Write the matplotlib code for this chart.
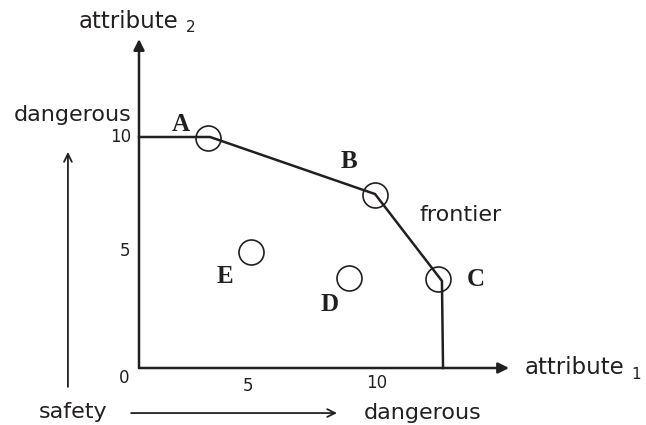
import matplotlib
matplotlib.use("Agg")
import matplotlib.pyplot as plt

# ---- data (attribute units) ----
frontier_x = [0.0, 3.23, 10.73, 13.77, 13.82]
frontier_y = [10.0, 10.0, 7.53, 3.77, 0.0]

point_names = ["A", "B", "C", "D", "E"]
point_x = [3.14, 10.73, 13.59, 9.55, 5.09]
point_y = [9.96, 7.49, 3.85, 3.90, 5.02]

label_x = [1.91, 9.55, 15.32, 8.68, 3.91]
label_y = [10.56, 8.96, 3.85, 2.77, 3.98]

xtick_vals = [0, 5, 10]
xtick_pos = [-0.68, 4.95, 10.82]
xtick_ypos = [-0.43, -0.78, -0.65]
ytick_vals = [5, 10]
ytick_xpos = [-0.64, -0.82]
ytick_pos = [5.06, 10.0]

x_axis_end = 16.82
y_axis_end = 14.24

fig = plt.figure(figsize=(6.46, 4.25), dpi=100)
ax = fig.add_axes([0, 0, 1, 1])
ax.set_xlim(-139 / 22.0, (646 - 139) / 22.0)
ax.set_ylim(-(425 - 368) / 23.1, 368 / 23.1)
ax.axis("off")

sans = "DejaVu Sans"
col = "#231f20"

# axes with arrows
ax.annotate("", xy=(x_axis_end, 0), xytext=(0, 0),
            arrowprops=dict(arrowstyle="-|>", color=col, lw=1.8,
                            mutation_scale=16, shrinkA=0, shrinkB=0))
ax.annotate("", xy=(0, y_axis_end), xytext=(0, 0),
            arrowprops=dict(arrowstyle="-|>", color=col, lw=1.8,
                            mutation_scale=16, shrinkA=0, shrinkB=0))

# frontier
ax.plot(frontier_x, frontier_y, color=col, lw=1.8, solid_joinstyle="miter")

# points
ax.plot(point_x, point_y, linestyle="none", marker="o", markersize=18,
        markerfacecolor="none", markeredgecolor=col, markeredgewidth=1.2)

for n, lx, ly in zip(point_names, label_x, label_y):
    ax.text(lx, ly, n, fontsize=18, fontweight="bold", family="Liberation Serif",
            ha="center", va="center", color=col)

# tick labels
for v, p, yp in zip(xtick_vals, xtick_pos, xtick_ypos):
    ax.text(p, yp, str(v), fontsize=12, family=sans,
            ha="center", va="center", color=col)
for v, xp, p in zip(ytick_vals, ytick_xpos, ytick_pos):
    ax.text(xp, p, str(v), fontsize=12, family=sans,
            ha="center", va="center", color=col)

# axis titles
ax.text(-2.73, 14.98, "attribute", fontsize=16.5, family=sans, ha="left",
        va="center", color=col)
ax.text(2.35, 14.72, "2", fontsize=11, family=sans, ha="center",
        va="center", color=col)
ax.text(17.55, 0.04, "attribute", fontsize=16.5, family=sans, ha="left",
        va="center", color=col)
ax.text(22.6, -0.3, "1", fontsize=11, family=sans, ha="center",
        va="center", color=col)

ax.text(14.64, 6.62, "frontier", fontsize=16, family=sans, ha="center",
        va="center", color=col)

# side arrows
ax.text(-3.02, 10.95, "dangerous", fontsize=16, family=sans, ha="center",
        va="center", color=col)
ax.annotate("", xy=(-3.23, 9.35), xytext=(-3.23, -0.82),
            arrowprops=dict(arrowstyle="->", color=col, lw=1.3,
                            mutation_scale=14, shrinkA=0, shrinkB=0))
ax.text(-2.98, -1.90, "safety", fontsize=16, family=sans, ha="center",
        va="center", color=col)
ax.annotate("", xy=(9.0, -1.95), xytext=(-0.36, -1.95),
            arrowprops=dict(arrowstyle="->", color=col, lw=1.3,
                            mutation_scale=14, shrinkA=0, shrinkB=0))
ax.text(12.89, -1.95, "dangerous", fontsize=16, family=sans, ha="center",
        va="center", color=col)

fig.savefig("out.png", dpi=100)
